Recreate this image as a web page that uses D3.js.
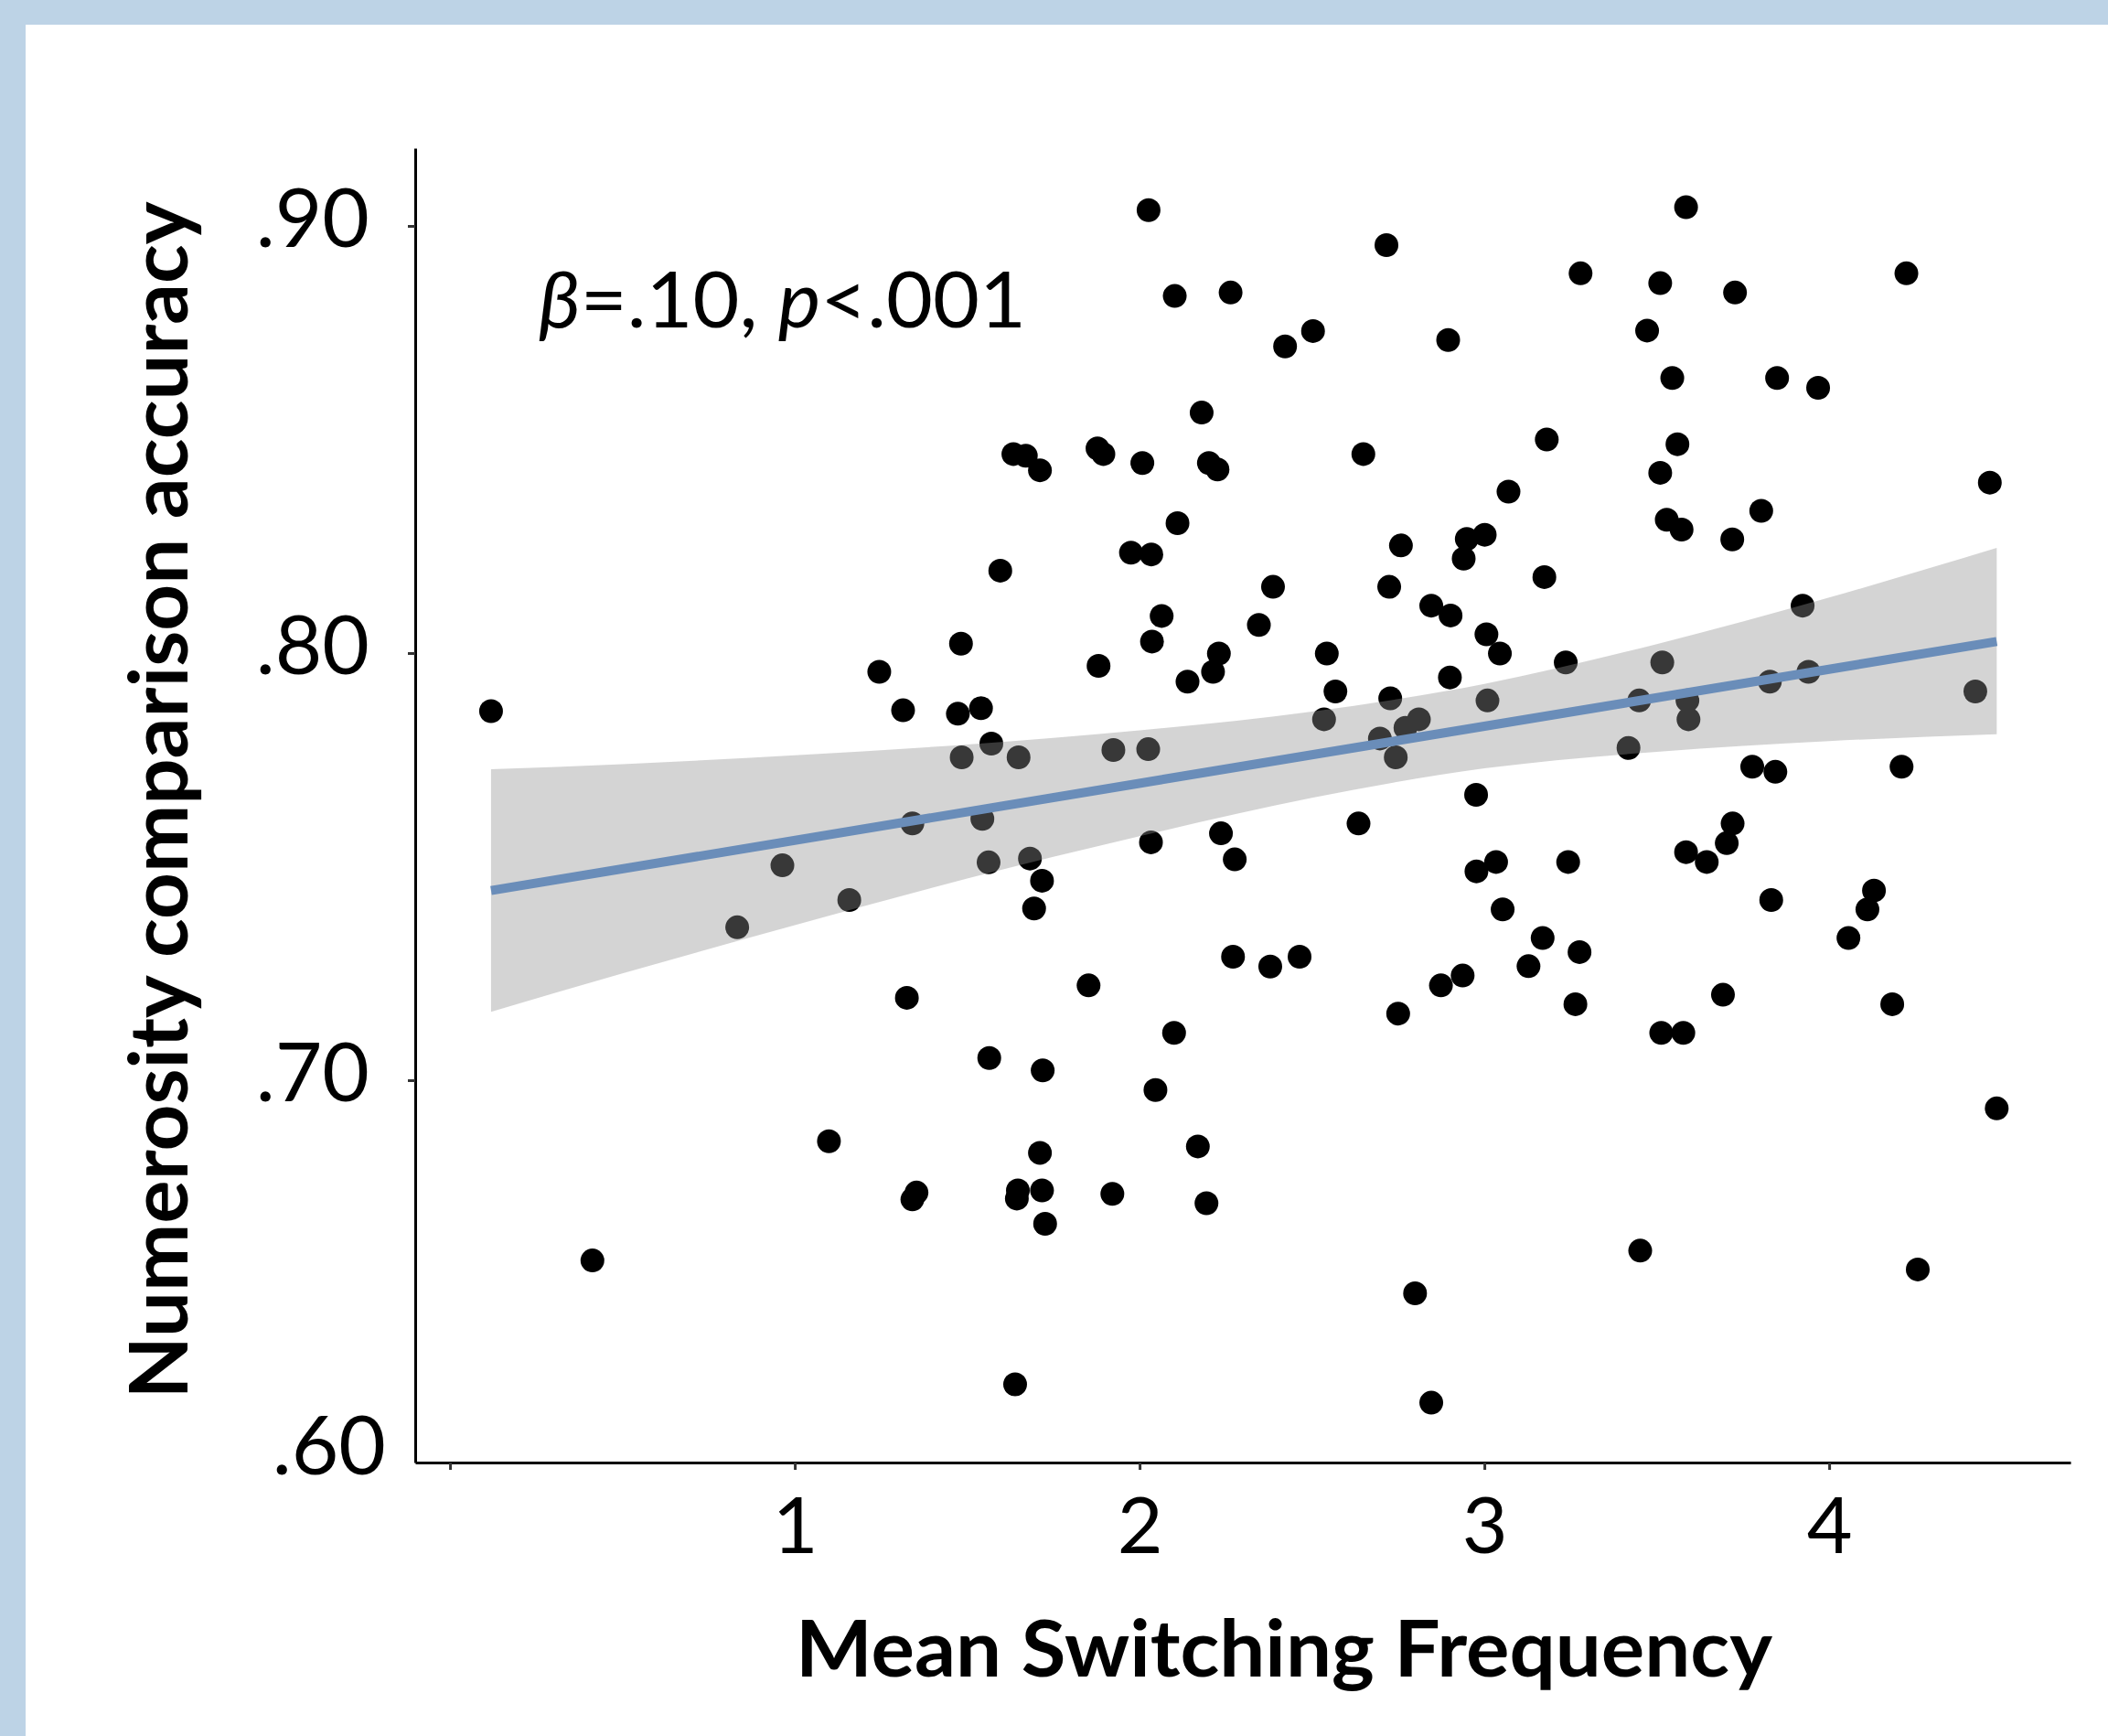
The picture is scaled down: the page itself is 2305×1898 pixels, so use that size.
<!DOCTYPE html>
<html>
<head>
<meta charset="utf-8">
<script src="https://cdn.jsdelivr.net/npm/d3@7"></script>
<style>
    body { margin: 0; background: #fff; }
    svg { display: block; }
</style>
</head>
<body>
<div id="chart"></div>
<script>
// Data
const switchFreq = [
    0.119, 0.413, 0.833, 0.964, 1.099, 1.158, 1.245, 1.314, 1.325, 1.341,
    1.353, 1.341, 1.473, 1.482, 1.484, 1.540, 1.544, 1.562, 1.564, 1.570,
    1.596, 1.634, 1.639, 1.644, 1.647, 1.649, 1.670, 1.682, 1.694, 1.711,
    1.711, 1.717, 1.717, 1.719, 1.726, 1.852, 1.878, 1.881, 1.895, 1.921,
    1.924, 1.975, 2.008, 2.025, 2.026, 2.034, 2.036, 2.033, 2.046, 2.064,
    2.100, 2.102, 2.110, 2.139, 2.169, 2.180, 2.194, 2.201, 2.213, 2.226,
    2.230, 2.236, 2.264, 2.271, 2.276, 2.346, 2.379, 2.387, 2.422, 2.464,
    2.503, 2.535, 2.543, 2.568, 2.635, 2.649, 2.697, 2.716, 2.724, 2.727,
    2.743, 2.750, 2.758, 2.771, 2.799, 2.810, 2.846, 2.846, 2.874, 2.895,
    2.900, 2.902, 2.940, 2.937, 2.949, 2.976, 2.977, 3.001, 3.006, 3.009,
    3.034, 3.045, 3.053, 3.070, 3.128, 3.169, 3.174, 3.181, 3.236, 3.243,
    3.264, 3.276, 3.279, 3.418, 3.452, 3.449, 3.472, 3.510, 3.510, 3.516,
    3.513, 3.529, 3.545, 3.560, 3.572, 3.577, 3.585, 3.585, 3.589, 3.592,
    3.645, 3.692, 3.703, 3.719, 3.720, 3.727, 3.777, 3.803, 3.828, 3.832,
    3.844, 3.849, 3.923, 3.940, 3.968, 4.056, 4.111, 4.130, 4.183, 4.210,
    4.224, 4.257, 4.424, 4.466, 4.486
];

const accuracy = [
    0.7864, 0.6578, 0.7358, 0.7503, 0.6857, 0.7422, 0.7956, 0.7866, 0.7193, 0.7601,
    0.6737, 0.6721, 0.7858, 0.8022, 0.7756, 0.7871, 0.7612, 0.7510, 0.7052, 0.7788,
    0.8193, 0.8466, 0.6288, 0.6723, 0.6742, 0.7756, 0.8462, 0.7519, 0.7402, 0.8428,
    0.6830, 0.6742, 0.7467, 0.7023, 0.6664, 0.7222, 0.8479, 0.7970, 0.8466, 0.6734,
    0.7773, 0.8235, 0.8445, 0.7775, 0.9037, 0.8231, 0.8027, 0.7557, 0.6977, 0.8087,
    0.7111, 0.8836, 0.8304, 0.7933, 0.6845, 0.8563, 0.6712, 0.8445, 0.7956, 0.8430,
    0.7999, 0.7578, 0.8844, 0.7289, 0.7517, 0.8066, 0.7266, 0.8155, 0.8718, 0.7289,
    0.8754, 0.7845, 0.7999, 0.7910, 0.7601, 0.8466, 0.7800, 0.8955, 0.8155, 0.7894,
    0.7756, 0.7156, 0.8252, 0.7825, 0.6501, 0.7845, 0.8111, 0.6245, 0.7222, 0.8733,
    0.7943, 0.8088, 0.8221, 0.7245, 0.8267, 0.7668, 0.7489, 0.8277, 0.8044, 0.7889,
    0.7511, 0.7999, 0.7400, 0.8378, 0.7267, 0.7333, 0.8178, 0.8500, 0.7978, 0.7511,
    0.7178, 0.7300, 0.8889, 0.7778, 0.6601, 0.7889, 0.8755, 0.8866, 0.8422, 0.7978,
    0.7111, 0.8312, 0.8644, 0.8489, 0.8289, 0.7111, 0.9044, 0.7534, 0.7889, 0.7845,
    0.7511, 0.7200, 0.7555, 0.8266, 0.7601, 0.8844, 0.7734, 0.8333, 0.7933, 0.7422,
    0.7722, 0.8644, 0.8111, 0.7956, 0.8621, 0.7333, 0.7400, 0.7444, 0.7178, 0.7734,
    0.8889, 0.6557, 0.7910, 0.8399, 0.6934
];

// fitted line and its confidence band
const fitX = [0.119, 4.486];
const fitY = [0.7444, 0.8027];
const bandX = [0.119, 0.5, 1.0, 1.5, 2.0, 2.5, 3.0, 3.5, 4.0, 4.486];
const bandHigh = [0.7728, 0.7740, 0.7761, 0.7786, 0.7819, 0.7863, 0.7928, 0.8021, 0.8130, 0.8246];
const bandLow = [0.7160, 0.7250, 0.7363, 0.7472, 0.7571, 0.7661, 0.7730, 0.7769, 0.7794, 0.7810];

const xDomain = [-0.101, 4.700];
const yDomain = [0.6105, 0.9182];
const xTicks = [0, 1, 2, 3, 4];
const yTicks = [0.70, 0.80, 0.90];
const yFloorLabel = '.60';

const xTitle = 'Mean Switching Frequency';
const yTitle = 'Numerosity comparison accuracy';

async function draw() {
    const dataset = switchFreq.map((x, i) => ({ x: x, y: accuracy[i] }));
    const band = bandX.map((x, i) => ({ x: x, lo: bandLow[i], hi: bandHigh[i] }));
    const fit = fitX.map((x, i) => ({ x: x, y: fitY[i] }));

    // Dimensions
    let dimensions = {
        width: 2305,
        height: 1898,
        margin: {
            top: 162,
            right: 41,
            bottom: 299,
            left: 454
        }
    };
    dimensions.containerWidth = dimensions.width - dimensions.margin.left - dimensions.margin.right;
    dimensions.containerHeight = dimensions.height - dimensions.margin.top - dimensions.margin.bottom;

    const svg = d3.select('#chart')
        .append('svg')
        .attr('width', dimensions.width)
        .attr('height', dimensions.height);

    // light blue frame on top and left
    svg.append('rect')
        .attr('x', 0).attr('y', 0)
        .attr('width', dimensions.width).attr('height', 27)
        .attr('fill', '#bdd3e6');
    svg.append('rect')
        .attr('x', 0).attr('y', 0)
        .attr('width', 28).attr('height', dimensions.height)
        .attr('fill', '#bdd3e6');

    const container = svg.append('g')
        .attr('transform', `translate(${dimensions.margin.left}, ${dimensions.margin.top})`);

    // Scales
    const xScale = d3.scaleLinear()
        .domain(xDomain)
        .range([0, dimensions.containerWidth]);

    const yScale = d3.scaleLinear()
        .domain(yDomain)
        .range([dimensions.containerHeight, 0]);

    // Draw circles
    container.append('g')
        .selectAll('circle')
        .data(dataset)
        .join('circle')
            .attr('r', 13)
            .attr('fill', '#000')
            .attr('cx', d => xScale(d.x))
            .attr('cy', d => yScale(d.y));

    // confidence band drawn over the points
    const area = d3.area()
        .x(d => xScale(d.x))
        .y0(d => yScale(d.lo))
        .y1(d => yScale(d.hi))
        .curve(d3.curveMonotoneX);

    container.append('path')
        .datum(band)
        .attr('d', area)
        .attr('fill', 'rgb(143,143,143)')
        .attr('fill-opacity', 0.39);

    const line = d3.line()
        .x(d => xScale(d.x))
        .y(d => yScale(d.y));

    container.append('path')
        .datum(fit)
        .attr('d', line)
        .attr('fill', 'none')
        .attr('stroke', '#6a8db9')
        .attr('stroke-width', 10);

    // Axes
    const xAxis = d3.axisBottom(xScale)
        .tickValues(xTicks)
        .tickSize(8)
        .tickSizeOuter(0)
        .tickPadding(30)
        .tickFormat(d => d === 0 ? '' : d);

    const xAxisGroup = container.append('g')
        .call(xAxis)
        .attr('transform', `translate(0, ${dimensions.containerHeight})`)
        .classed('axis', true);

    const yAxis = d3.axisLeft(yScale)
        .tickValues(yTicks)
        .tickSize(8)
        .tickSizeOuter(0)
        .tickPadding(42)
        .tickFormat(d => d3.format('.2f')(d).slice(1));

    const yAxisGroup = container.append('g')
        .call(yAxis)
        .classed('axis', true);

    [xAxisGroup, yAxisGroup].forEach(g => {
        g.attr('font-family', 'Lato, "Open Sans", sans-serif');
        g.select('.domain').attr('stroke', '#000').attr('stroke-width', 3);
        g.selectAll('.tick line').attr('stroke', '#333').attr('stroke-width', 3);
        g.selectAll('.tick text').attr('fill', '#000');
    });
    xAxisGroup.attr('font-size', 86);
    yAxisGroup.attr('font-size', 89);
    yAxisGroup.selectAll('.tick text').attr('dy', '0.25em');

    // bottom label sits by the corner
    yAxisGroup.append('text')
        .attr('x', -32)
        .attr('y', yScale(yDomain[0]) + 13)
        .attr('text-anchor', 'end')
        .attr('fill', '#000')
        .text(yFloorLabel);

    // Axis titles
    svg.append('text')
        .attr('x', 1404)
        .attr('y', 1833)
        .attr('text-anchor', 'middle')
        .attr('font-family', 'Lato, "Open Sans", sans-serif')
        .attr('font-weight', 'bold')
        .attr('font-size', 86)
        .attr('textLength', 1068)
        .attr('lengthAdjust', 'spacingAndGlyphs')
        .attr('fill', '#000')
        .text(xTitle);

    svg.append('text')
        .attr('transform', 'translate(205, 875) rotate(-90)')
        .attr('text-anchor', 'middle')
        .attr('font-family', 'Lato, "Open Sans", sans-serif')
        .attr('font-weight', 'bold')
        .attr('font-size', 88)
        .attr('textLength', 1309)
        .attr('lengthAdjust', 'spacingAndGlyphs')
        .attr('fill', '#000')
        .text(yTitle);

    // Stats annotation
    const note = svg.append('text')
        .attr('x', 589)
        .attr('y', 358)
        .attr('font-family', 'Lato, "Open Sans", sans-serif')
        .attr('font-size', 86)
        .attr('textLength', 533)
        .attr('lengthAdjust', 'spacingAndGlyphs')
        .attr('fill', '#000');
    note.append('tspan').attr('font-style', 'italic').text('β');
    note.append('tspan').text('=.10, ');
    note.append('tspan').attr('font-style', 'italic').text('p');
    note.append('tspan').text('<.001');
}

draw();
</script>
</body>
</html>
